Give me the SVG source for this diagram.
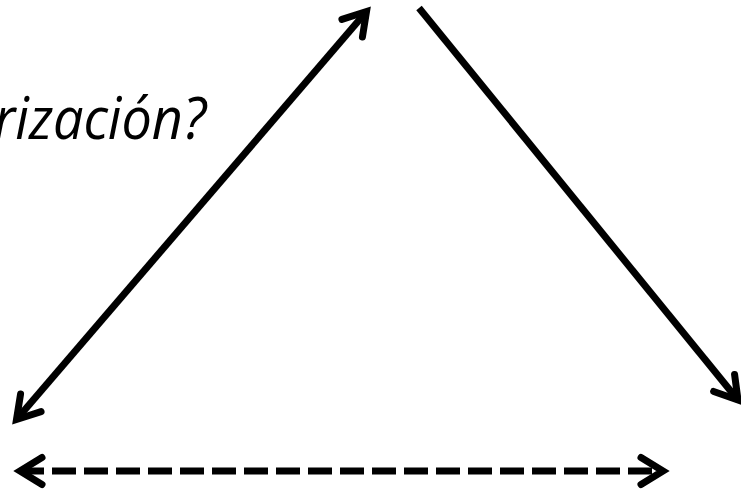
<svg xmlns="http://www.w3.org/2000/svg" width="741" height="492" viewBox="0 0 741 492">
  <style>
    .conn { fill: none; stroke: #000; stroke-width: 7; }
    .dash { stroke-dasharray: 24 8; stroke-width: 7; }
    .head { fill: none; stroke: #000; stroke-width: 7; stroke-linecap: round; stroke-linejoin: miter; stroke-miterlimit: 10; }
    .label { font-family: "Open Sans", "Noto Sans", "Liberation Sans", sans-serif; font-style: italic; font-size: 58px; fill: #000; }
  </style>
  <defs>
    <marker id="chev" markerUnits="userSpaceOnUse" orient="auto-start-reverse" refX="0" refY="0" markerWidth="60" markerHeight="60" viewBox="-30 -30 60 60" style="overflow:visible">
      <path class="head" d="M -22 -13.5 L 0 0 L -22 13.5"/>
    </marker>
  </defs>
  <rect x="0" y="0" width="741" height="492" fill="#fff"/>
  <g id="label-question">
    <text class="label" x="-6" y="139" textLength="212" lengthAdjust="spacingAndGlyphs">rización?</text>
  </g>
  <g id="connectors">
    <line id="left-diagonal" class="conn" x1="16.5" y1="419.5" x2="366.5" y2="11.5" marker-start="url(#chev)" marker-end="url(#chev)"/>
    <line id="right-diagonal" class="conn" x1="419" y1="8" x2="738" y2="400" marker-end="url(#chev)"/>
    <line id="bottom-dashed" class="conn dash" x1="20" y1="471" x2="663" y2="471" marker-start="url(#chev)" marker-end="url(#chev)"/>
  </g>
</svg>
